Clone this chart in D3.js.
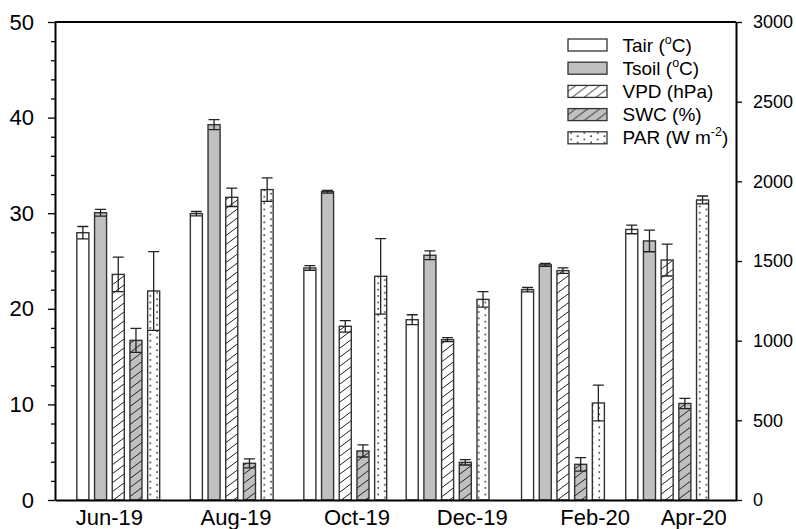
<!DOCTYPE html>
<html>
<head>
<meta charset="utf-8">
<script src="https://cdn.jsdelivr.net/npm/d3@7"></script>
<style>
  body { margin: 0; background: #fff; }
  svg { display: block; }
  text { font-family: "Liberation Sans", Arial, sans-serif; fill: #000; }
</style>
</head>
<body>
<svg id="chart" width="796" height="529"></svg>
<script>
// ---------------- data ----------------
const months      = ["Jun-19", "Aug-19", "Oct-19", "Dec-19", "Feb-20", "Apr-20"];
const sampleDates = ["2019-06-04", "2019-08-04", "2019-10-04", "2019-11-28", "2020-01-29", "2020-03-25"];
const labelDates  = ["2019-05-30", "2019-08-06", "2019-10-10", "2019-12-11", "2020-02-15", "2020-04-08"];

const seriesNames = ["Tair", "Tsoil", "VPD", "SWC", "PAR"];

const tair     = [27.96, 29.95, 24.27, 18.86, 22.0, 28.3];
const tairErr  = [0.65, 0.23, 0.24, 0.52, 0.23, 0.45];
const tsoil    = [30.05, 39.26, 32.25, 25.6, 24.6, 27.1];
const tsoilErr = [0.35, 0.52, 0.14, 0.45, 0.16, 1.13];
const vpd      = [23.6, 31.66, 18.17, 16.77, 23.99, 25.1];
const vpdErr   = [1.8, 0.96, 0.6, 0.21, 0.29, 1.67];
const swc      = [16.7, 3.84, 5.13, 3.94, 3.73, 10.1];
const swcErr   = [1.26, 0.47, 0.63, 0.28, 0.7, 0.54];
const par      = [1312, 1948, 1404, 1259, 609, 1883];   // right axis (W m-2)
const parErr   = [247, 74, 237, 49, 112, 25];

const leftTicks  = [0, 10, 20, 30, 40, 50];
const leftMinor  = [2, 4, 6, 8, 12, 14, 16, 18, 22, 24, 26, 28, 32, 34, 36, 38, 42, 44, 46, 48];
const rightTicks = [0, 500, 1000, 1500, 2000, 2500, 3000];

// ---------------- layout ----------------
const svg = d3.select("#chart");
const mL = 55, mR = 736, mT = 22, mB = 500;
const parse = d3.timeParse("%Y-%m-%d");

const x = d3.scaleTime()
  .domain([parse("2019-05-01"), parse("2020-05-01")])
  .range([mL, mR]);
const y  = d3.scaleLinear().domain([0, 50]).range([mB, mT]);
const y2 = d3.scaleLinear().domain([0, 3000]).range([mB, mT]);

const inner = d3.scaleBand().domain(seriesNames).range([-44.25, 44.25])
  .paddingInner(0.32).paddingOuter(0.16);

// ---------------- patterns ----------------
const defs = svg.append("defs");
function hatch(id, bg) {
  const p = defs.append("pattern").attr("id", id)
    .attr("patternUnits", "userSpaceOnUse")
    .attr("width", 12).attr("height", 9);
  p.append("rect").attr("width", 12).attr("height", 9).attr("fill", bg);
  p.append("path").attr("d", "M-3,11.25 L15,-2.25 M-15,11.25 L3,-2.25 M9,11.25 L27,-2.25")
    .attr("stroke", "#222").attr("stroke-width", 1);
}
hatch("hatchW", "#fff");
hatch("hatchG", "#c0c0c0");
const dots = defs.append("pattern").attr("id", "dots")
  .attr("patternUnits", "userSpaceOnUse")
  .attr("width", 13.4).attr("height", 6.4);
dots.append("rect").attr("width", 13.4).attr("height", 6.4).attr("fill", "#fff");
dots.append("circle").attr("cx", 3).attr("cy", 1.6).attr("r", 0.85).attr("fill", "#222");
dots.append("circle").attr("cx", 9.7).attr("cy", 4.8).attr("r", 0.85).attr("fill", "#222");

const fills = { Tair: "#fff", Tsoil: "#c0c0c0", VPD: "url(#hatchW)", SWC: "url(#hatchG)", PAR: "url(#dots)" };

// ---------------- bars ----------------
const seriesData = [
  { name: "Tair",  vals: tair,  errs: tairErr,  scale: y },
  { name: "Tsoil", vals: tsoil, errs: tsoilErr, scale: y },
  { name: "VPD",   vals: vpd,   errs: vpdErr,   scale: y },
  { name: "SWC",   vals: swc,   errs: swcErr,   scale: y },
  { name: "PAR",   vals: par,   errs: parErr,   scale: y2 }
];

const records = [];
seriesData.forEach(s => {
  s.vals.forEach((v, i) => records.push({ series: s.name, v, e: s.errs[i], sc: s.scale, date: parse(sampleDates[i]) }));
});

const bw = inner.bandwidth();
const barG = svg.append("g");
const bars = barG.selectAll("g.bar").data(records).join("g").attr("class", "bar");

bars.append("rect")
  .attr("x", d => x(d.date) + inner(d.series))
  .attr("y", d => d.sc(d.v))
  .attr("width", bw)
  .attr("height", d => mB - d.sc(d.v))
  .attr("fill", d => fills[d.series])
  .attr("stroke", "#333").attr("stroke-width", 1.4);

const cap = 5.5;
bars.append("path")
  .attr("d", d => {
    const cx = x(d.date) + inner(d.series) + bw / 2;
    const yt = d.sc(d.v + d.e), yb = d.sc(d.v - d.e);
    return `M${cx},${yt}L${cx},${yb}M${cx - cap},${yt}L${cx + cap},${yt}M${cx - cap},${yb}L${cx + cap},${yb}`;
  })
  .attr("fill", "none").attr("stroke", "#222").attr("stroke-width", 1.3);

// ---------------- axes ----------------
svg.append("line").attr("x1", mL).attr("x2", mR).attr("y1", mT).attr("y2", mT)
  .attr("stroke", "#000").attr("stroke-width", 2);

const ax = svg.append("g").attr("transform", `translate(0,${mB})`)
  .call(d3.axisBottom(x).tickValues(labelDates.map(parse)).tickFormat((d, i) => months[i])
    .tickSize(0).tickSizeOuter(0).tickPadding(9));
ax.selectAll("text").attr("font-size", 22);

const ayMinor = svg.append("g").attr("transform", `translate(${mL},0)`)
  .call(d3.axisLeft(y).tickValues(leftMinor).tickSize(4).tickSizeOuter(0).tickFormat(""));
ayMinor.select(".domain").remove();
const ay = svg.append("g").attr("transform", `translate(${mL},0)`)
  .call(d3.axisLeft(y).tickValues(leftTicks).tickSize(7).tickSizeOuter(0).tickPadding(14));
ay.selectAll("text").attr("font-size", 22);

const ay2 = svg.append("g").attr("transform", `translate(${mR},0)`)
  .call(d3.axisRight(y2).tickValues(rightTicks).tickFormat(d3.format("d"))
    .tickSize(6).tickSizeOuter(0).tickPadding(11));
ay2.selectAll("text").attr("font-size", 18);

svg.selectAll(".domain").attr("stroke", "#000").attr("stroke-width", 2);
svg.selectAll(".tick line").attr("stroke", "#000").attr("stroke-width", 1.3);
svg.selectAll(".tick text").attr("font-family", "'Liberation Sans', Arial, sans-serif").attr("fill", "#000");

// ---------------- legend ----------------
const legendItems = [
  { name: "Tair",  parts: [["Tair (", 0], ["o", 1], ["C)", 0]] },
  { name: "Tsoil", parts: [["Tsoil (", 0], ["o", 1], ["C)", 0]] },
  { name: "VPD",   parts: [["VPD (hPa)", 0]] },
  { name: "SWC",   parts: [["SWC (%)", 0]] },
  { name: "PAR",   parts: [["PAR (W m", 0], ["-2", 1], [")", 0]] }
];
const lg = svg.append("g").attr("transform", "translate(568,45)");
const li = lg.selectAll("g").data(legendItems).join("g")
  .attr("transform", (d, i) => `translate(0,${i * 23.2})`);
li.append("rect").attr("x", 0).attr("y", -6).attr("width", 39).attr("height", 12)
  .attr("fill", d => fills[d.name]).attr("stroke", "#333").attr("stroke-width", 1.3);
const lt = li.append("text").attr("x", 54.5).attr("y", 6.5).attr("font-size", 19);
lt.each(function(d) {
  const t = d3.select(this);
  let prevSup = false;
  d.parts.forEach(([s, sup]) => {
    const ts = t.append("tspan").text(s);
    if (sup) { ts.attr("font-size", 12.5).attr("dy", -8); prevSup = true; }
    else if (prevSup) { ts.attr("dy", 8); prevSup = false; }
  });
});
</script>
</body>
</html>
